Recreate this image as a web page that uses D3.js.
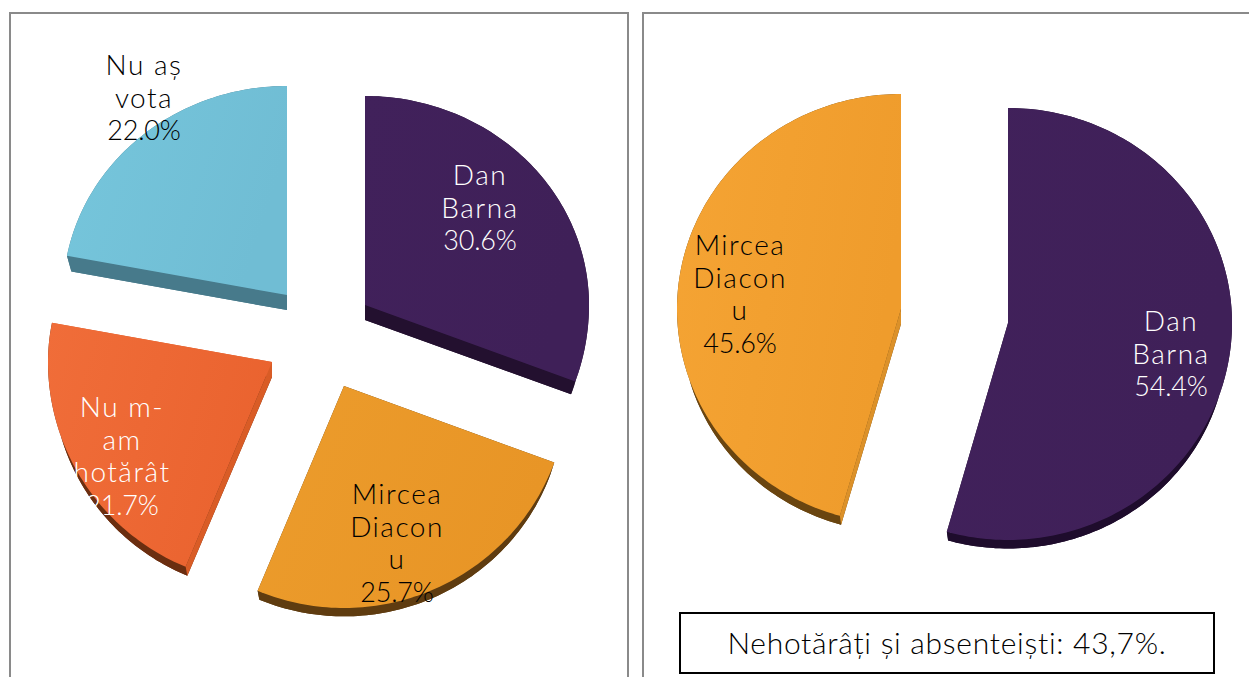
<!DOCTYPE html>
<html><head><meta charset="utf-8">
<script src="https://d3js.org/d3.v7.min.js"></script>
<style>html,body{margin:0;padding:0;background:#fff;overflow:hidden}text{font-family:Lato,"Open Sans",sans-serif;font-weight:300}</style>
</head><body><svg id="c" width="1249" height="677"></svg>
<script>
const leftCategories = ["Dan Barna","Mircea Diaconu","Nu m-am hotărât","Nu aș vota"];
const leftValues = [30.6,25.7,21.7,22.0];
const rightCategories = ["Dan Barna","Mircea Diaconu"];
const rightValues = [54.4,45.6];
const note = "Nehotărâți și absenteiști: 43,7%.";

const leftLabels = [["Dan","Barna","30.6%"],["Mircea","Diacon","u","25.7%"],["Nu m-","am","hotărât","21.7%"],["Nu aș","vota","22.0%"]];
const rightLabels = [["Dan","Barna","54.4%"],["Mircea","Diacon","u","45.6%"]];

// layout, kept apart from the values
const leftLayout = [
 {apex:[365,305],top:209,bot:222,fill:["#41215b","#3f2058"],rim:"#23102f",side:"#23102f",text:"#fff",label:[480,185]},
 {apex:[344,386],top:209,bot:222,fill:["#ec9c2c","#e89526"],rim:"#5f3c10",side:"#5f3c10",text:"#000",label:[397,504]},
 {apex:[272,362],top:209,bot:222,fill:["#f06d39","#ea632f"],rim:"#6b2e10",side:"#d95c26",text:"#fff",label:[122,417]},
 {apex:[287,295],top:209,bot:209,fill:["#76c6dc","#70bdd4"],rim:"#477a8b",side:"#477a8b",text:"#000",label:[144,75]}
];
const rightLayout = [
 {apex:[1008,323],top:215,bot:217,fill:["#41215b","#3f2058"],rim:"#1e0c2c",side:"#1e0c2c",text:"#fff",label:[1171,331]},
 {apex:[901,309],top:215,bot:215,fill:["#f5a434","#ef9c2c"],rim:"#6a4510",side:"#dc9129",text:"#000",label:[740,255]}
];
const RX=224, DEPTH=15, LINE=32.6, FONT=28;

const svg=d3.select("#c");
const defs=svg.append("defs");
svg.append("rect").attr("width",1249).attr("height",677).attr("fill","#fff");
const frame=svg.append("g").attr("fill","none").attr("stroke","#8a8a8a").attr("stroke-width",2);
frame.append("path").attr("d","M10,677V13H628V677");
frame.append("path").attr("d","M643,677V13H1249");

const pie=d3.pie().sort(null).startAngle(0).endAngle(2*Math.PI);
const line=d3.line();
function proj(a,L,depth){
  const k=depth?0.98:1, kb=depth?0.97:1, c=Math.cos(a);
  return [L.apex[0]+RX*k*Math.sin(a), L.apex[1]+(depth?DEPTH:0)-(c>0?L.top*k*c:L.bot*kb*c)];
}
function arcPts(a0,a1,L,depth){
  const n=Math.ceil((a1-a0)/0.02);
  return d3.range(n+1).map(i=>proj(a0+(a1-a0)*i/n,L,depth));
}
function drawPie(values,layout,labels,id){
  const arcs=pie(values);
  const order=d3.range(arcs.length);
  order.forEach(i=>{
    const d=arcs[i],L=layout[i],g=svg.append("g");
    const ap=L.apex, apB=[ap[0],ap[1]+DEPTH];
    const topArc=arcPts(d.startAngle,d.endAngle,L,false), botArc=arcPts(d.startAngle,d.endAngle,L,true);
    g.append("path").attr("d",line([apB,...botArc])+"Z").attr("fill",L.rim);
    g.append("path").attr("d",line([...topArc,...botArc.slice().reverse()])+"Z").attr("fill",L.rim);
    g.append("path").attr("d",line([ap,topArc[0],botArc[0],apB])+"Z").attr("fill",L.side);
    g.append("path").attr("d",line([ap,topArc[topArc.length-1],botArc[botArc.length-1],apB])+"Z").attr("fill",L.side);
    const gid=id+i;
    const gr=defs.append("linearGradient").attr("id",gid).attr("x1","0").attr("x2","1").attr("y1","0").attr("y2","0.3");
    gr.append("stop").attr("offset","0").attr("stop-color",L.fill[0]);
    gr.append("stop").attr("offset","1").attr("stop-color",L.fill[1]);
    g.append("path").attr("d",line([ap,...topArc])+"Z").attr("fill",`url(#${gid})`);
  });
  order.forEach(i=>{
    const L=layout[i];
    svg.append("g").selectAll("text").data(labels[i]).join("text")
      .attr("x",L.label[0]).attr("y",(t,j)=>L.label[1]+j*LINE)
      .attr("text-anchor","middle").attr("font-size",t=>/%$/.test(t)?27:FONT).attr("fill",L.text)
      .attr("letter-spacing",t=>/%$/.test(t)?-0.2:1.5).text(t=>t);
  });
}
drawPie(leftValues,leftLayout,leftLabels,"l");
drawPie(rightValues,rightLayout,rightLabels,"r");

svg.append("rect").attr("x",680).attr("y",613).attr("width",534).attr("height",60).attr("fill","#fff").attr("stroke","#000").attr("stroke-width",2);
svg.append("text").attr("x",947).attr("y",654).attr("text-anchor","middle").attr("font-size",30).attr("letter-spacing",0.72).attr("fill","#000").text(note);
</script></body></html>
